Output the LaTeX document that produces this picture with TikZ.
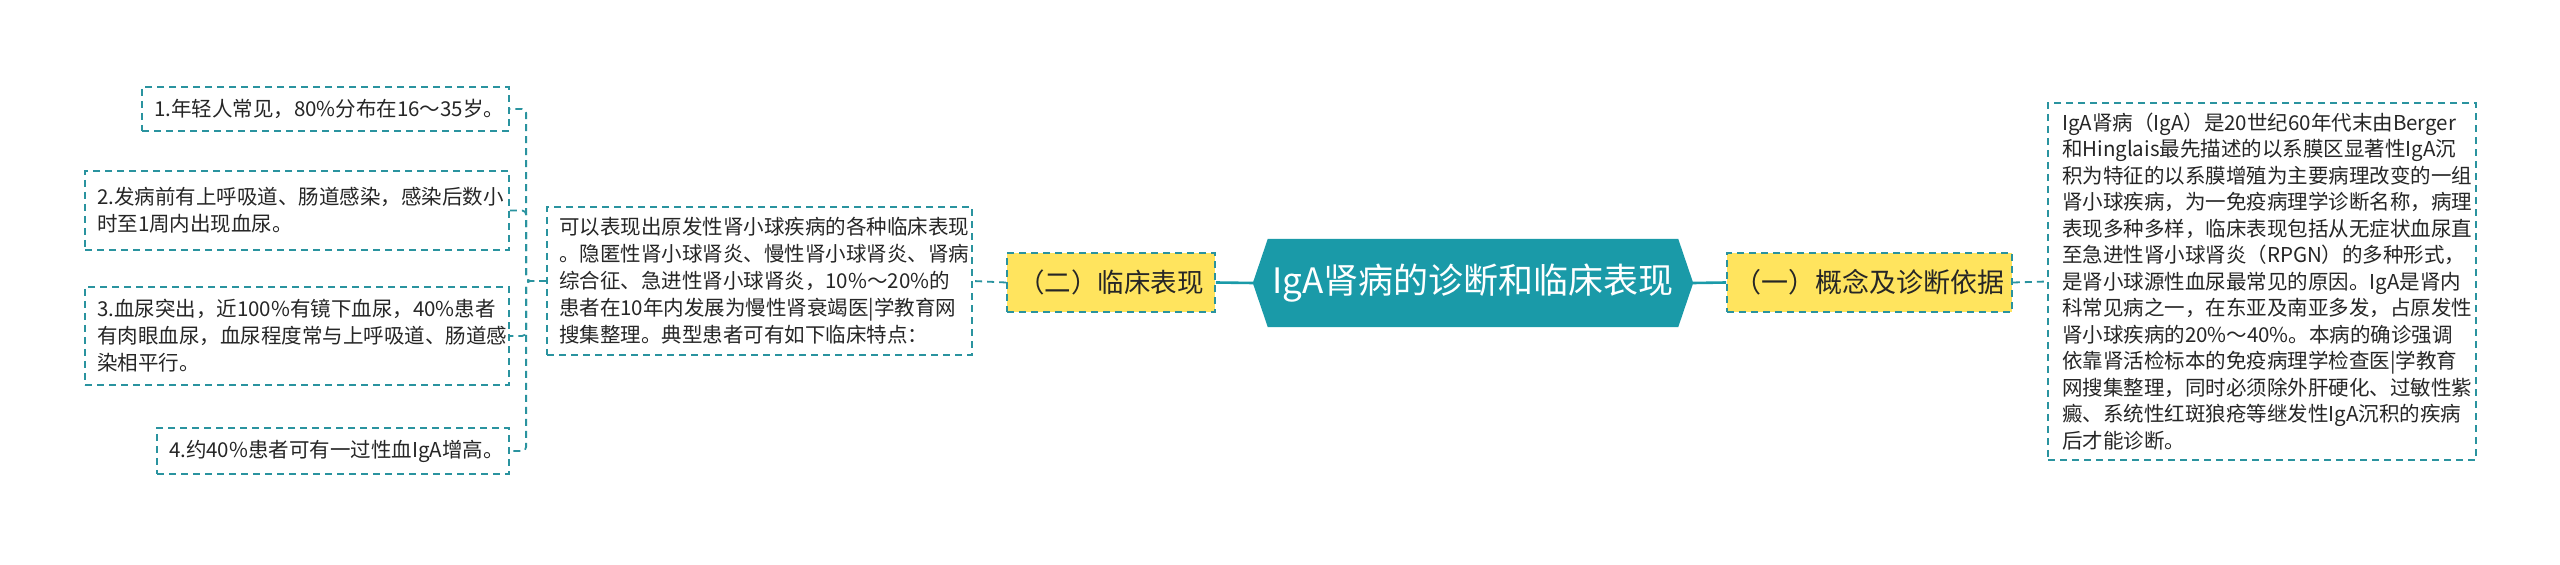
\documentclass[tikz,border=0pt]{standalone}
\usepackage{fontspec}
\setmainfont{Noto Sans CJK SC}
\usetikzlibrary{calc,backgrounds}
\definecolor{hexc}{HTML}{1A9AA8}
\definecolor{dashc}{HTML}{2A939F}
\definecolor{yel}{HTML}{FFE45E}
\definecolor{txt}{HTML}{262626}
\begin{document}
\begin{tikzpicture}[x=1pt,y=1pt,
  leaf/.style={draw=dashc, line width=1.8pt, dash pattern=on 7pt off 5pt, rectangle,
    inner xsep=12pt, inner ysep=0pt, align=left, anchor=center,
    font=\fontsize{20.5pt}{27pt}\selectfont, text=txt},
  ybox/.style={draw=dashc, fill=yel, line width=1.8pt, dash pattern=on 7pt off 5pt,
    rectangle, inner sep=0pt, minimum height=59pt, text=txt},
  centre/.style={rectangle, inner sep=0pt, minimum width=440pt, minimum height=88pt,
    text=white, font=\fontsize{35pt}{38pt}\selectfont},
  solidc/.style={draw=hexc, line width=2.6pt},
  dashl/.style={draw=dashc, line width=1.8pt, dash pattern=on 7pt off 5pt},
  busl/.style={draw=dashc, line width=1.8pt, dash pattern=on 7pt off 5pt, rounded corners=4pt}
]
\useasboundingbox (0,0) rectangle (2560,565);

% central node
\node[centre] (c) at (1473,282) {IgA肾病的诊断和临床表现};
\begin{scope}[on background layer]
  \fill[white] (0,0) rectangle (2560,565);
  \fill[hexc] (c.west) -- ($(c.north west)+(15,0)$) -- ($(c.north east)+(-15,0)$)
    -- (c.east) -- ($(c.south east)+(-15,0)$) -- ($(c.south west)+(15,0)$) -- cycle;
\end{scope}

% yellow boxes
\node[ybox, minimum width=208pt, font=\fontsize{26.5pt}{30pt}\selectfont] (y2) at (1111,282.5) {（二）临床表现};
\node[ybox, minimum width=285pt, font=\fontsize{27pt}{30pt}\selectfont] (y1) at (1869.5,282.5) {（一）概念及诊断依据};

% detail box (left)
\node[leaf, text width=401pt, minimum height=148pt] (d) at (759.5,284) {可以表现出原发性肾小球疾病的各种临床表现\\。隐匿性肾小球肾炎、慢性肾小球肾炎、肾病\\综合征、急进性肾小球肾炎，10\%～20\%的\\患者在10年内发展为慢性肾衰竭医|学教育网\\搜集整理。典型患者可有如下临床特点：};

% right box
\node[leaf, inner xsep=14pt, text width=400pt, minimum height=357pt, font=\fontsize{20.5pt}{26.5pt}\selectfont] (r) at (2262,283.5) {IgA肾病（IgA）是20世纪60年代末由Berger\\和Hinglais最先描述的以系膜区显著性IgA沉\\积为特征的以系膜增殖为主要病理改变的一组\\肾小球疾病，为一免疫病理学诊断名称，病理\\表现多种多样，临床表现包括从无症状血尿直\\至急进性肾小球肾炎（RPGN）的多种形式，\\是肾小球源性血尿最常见的原因。IgA是肾内\\科常见病之一，在东亚及南亚多发，占原发性\\肾小球疾病的20\%～40\%。本病的确诊强调\\依靠肾活检标本的免疫病理学检查医|学教育\\网搜集整理，同时必须除外肝硬化、过敏性紫\\癜、系统性红斑狼疮等继发性IgA沉积的疾病\\后才能诊断。};

% leaves
\node[leaf, text width=343pt, minimum height=44pt] (b1) at (325.5,456) {1.年轻人常见，80\%分布在16～35岁。};
\node[leaf, text width=400pt, minimum height=79pt] (b2) at (297,354.5) {2.发病前有上呼吸道、肠道感染，感染后数小\\时至1周内出现血尿。};
\node[leaf, text width=400pt, minimum height=98pt] (b3) at (297,229) {3.血尿突出，近100\%有镜下血尿，40\%患者\\有肉眼血尿，血尿程度常与上呼吸道、肠道感\\染相平行。};
\node[leaf, text width=328pt, minimum height=46pt] (b4) at (333,114) {4.约40\%患者可有一过性血IgA增高。};

% connectors
\draw[solidc] (c.west) -- (y2.east);
\draw[solidc] (c.east) -- (y1.west);
\draw[dashl] (y2.west) -- (d.east);
\draw[dashl] (y1.east) -- (r.west);
\draw[busl] (d.west) -- ++(-20,0) |- (b1.east);
\draw[busl] (d.west) -- ++(-20,0) |- (b2.east);
\draw[busl] (d.west) -- ++(-20,0) |- (b3.east);
\draw[busl] (d.west) -- ++(-20,0) |- (b4.east);
\end{tikzpicture}
\end{document}
